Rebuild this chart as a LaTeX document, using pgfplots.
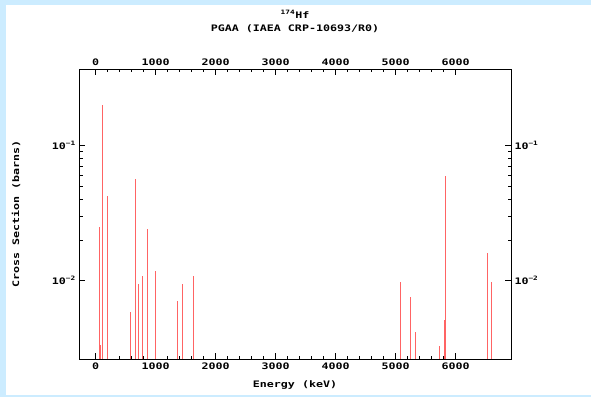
\documentclass[border=0pt]{standalone}
\usepackage{fontspec}
\setmainfont{DejaVu Sans Mono}[FakeStretch=1.3]
\usepackage{pgfplots}
\pgfplotsset{compat=1.18}
\definecolor{bgblue}{RGB}{204,236,255}
\definecolor{barred}{RGB}{255,100,100}
\pgfplotstableread{
E cs
60 0.0249
77 0.00334
110 0.200
193 0.0422
577 0.00589
660 0.0564
710 0.0095
777 0.0109
866 0.0240
1000 0.0119
1366 0.0071
1450 0.0095
1633 0.0109
5072 0.0097
5250 0.0076
5333 0.0042
5722 0.00328
5805 0.00514
5833 0.0593
6522 0.0160
6588 0.0098
}\lines
\newcommand{\lbl}{\bfseries\fontsize{9}{9}\selectfont}
\begin{document}
\begin{tikzpicture}[x=1bp,y=1bp]
\fill[bgblue] (0,0) rectangle (591,397);
\fill[white] (6,2) rectangle (591,392);
\node[font=\lbl] at (295,383) {\textsuperscript{174}Hf};
\node[font=\lbl] at (295,368) {PGAA (IAEA CRP-10693/R0)};
\node[font=\lbl, rotate=90] at (16,183) {Cross Section (barns)};
\node[font=\lbl] at (295,12) {Energy (keV)};
\begin{axis}[at={(79.3bp,38bp)}, anchor=south west, scale only axis,
  width=431.7bp, height=290bp,
  xmin=-273, xmax=6922, ymode=log, ymin=0.00263, ymax=0.37,
  log origin y=infty,
  axis line style={line width=0.8bp},
  every tick/.style={black, line width=0.8bp},
  tick align=inside, major tick length=6bp, minor tick length=3.5bp,
  xtick={0,1000,...,6000}, minor x tick num=4,
  ytick={0.01,0.1}, yticklabels={10\textsuperscript{−2},10\textsuperscript{−1}},
  xtick pos=both, ytick pos=both,
  xticklabel pos=lower, yticklabel pos=left,
  tick label style={font=\lbl},
  /pgf/number format/assume math mode=true,
  /pgf/number format/set thousands separator={},
]
\addplot[ycomb, barred, line width=0.9bp, mark=none] table[x=E,y=cs] {\lines};
\end{axis}
\begin{axis}[at={(79.3bp,38bp)}, anchor=south west, scale only axis,
  width=431.7bp, height=290bp,
  xmin=-273, xmax=6922, ymode=log, ymin=0.00263, ymax=0.37,
  axis line style={draw=none}, major tick style={draw=none}, minor tick style={draw=none},
  xtick={0,1000,...,6000}, 
  ytick={0.01,0.1}, yticklabels={10\textsuperscript{−2},10\textsuperscript{−1}},
  xticklabel pos=upper, yticklabel pos=right,
  tick label style={font=\lbl},
  /pgf/number format/assume math mode=true,
  /pgf/number format/set thousands separator={},
]
\end{axis}
\end{tikzpicture}
\end{document}
